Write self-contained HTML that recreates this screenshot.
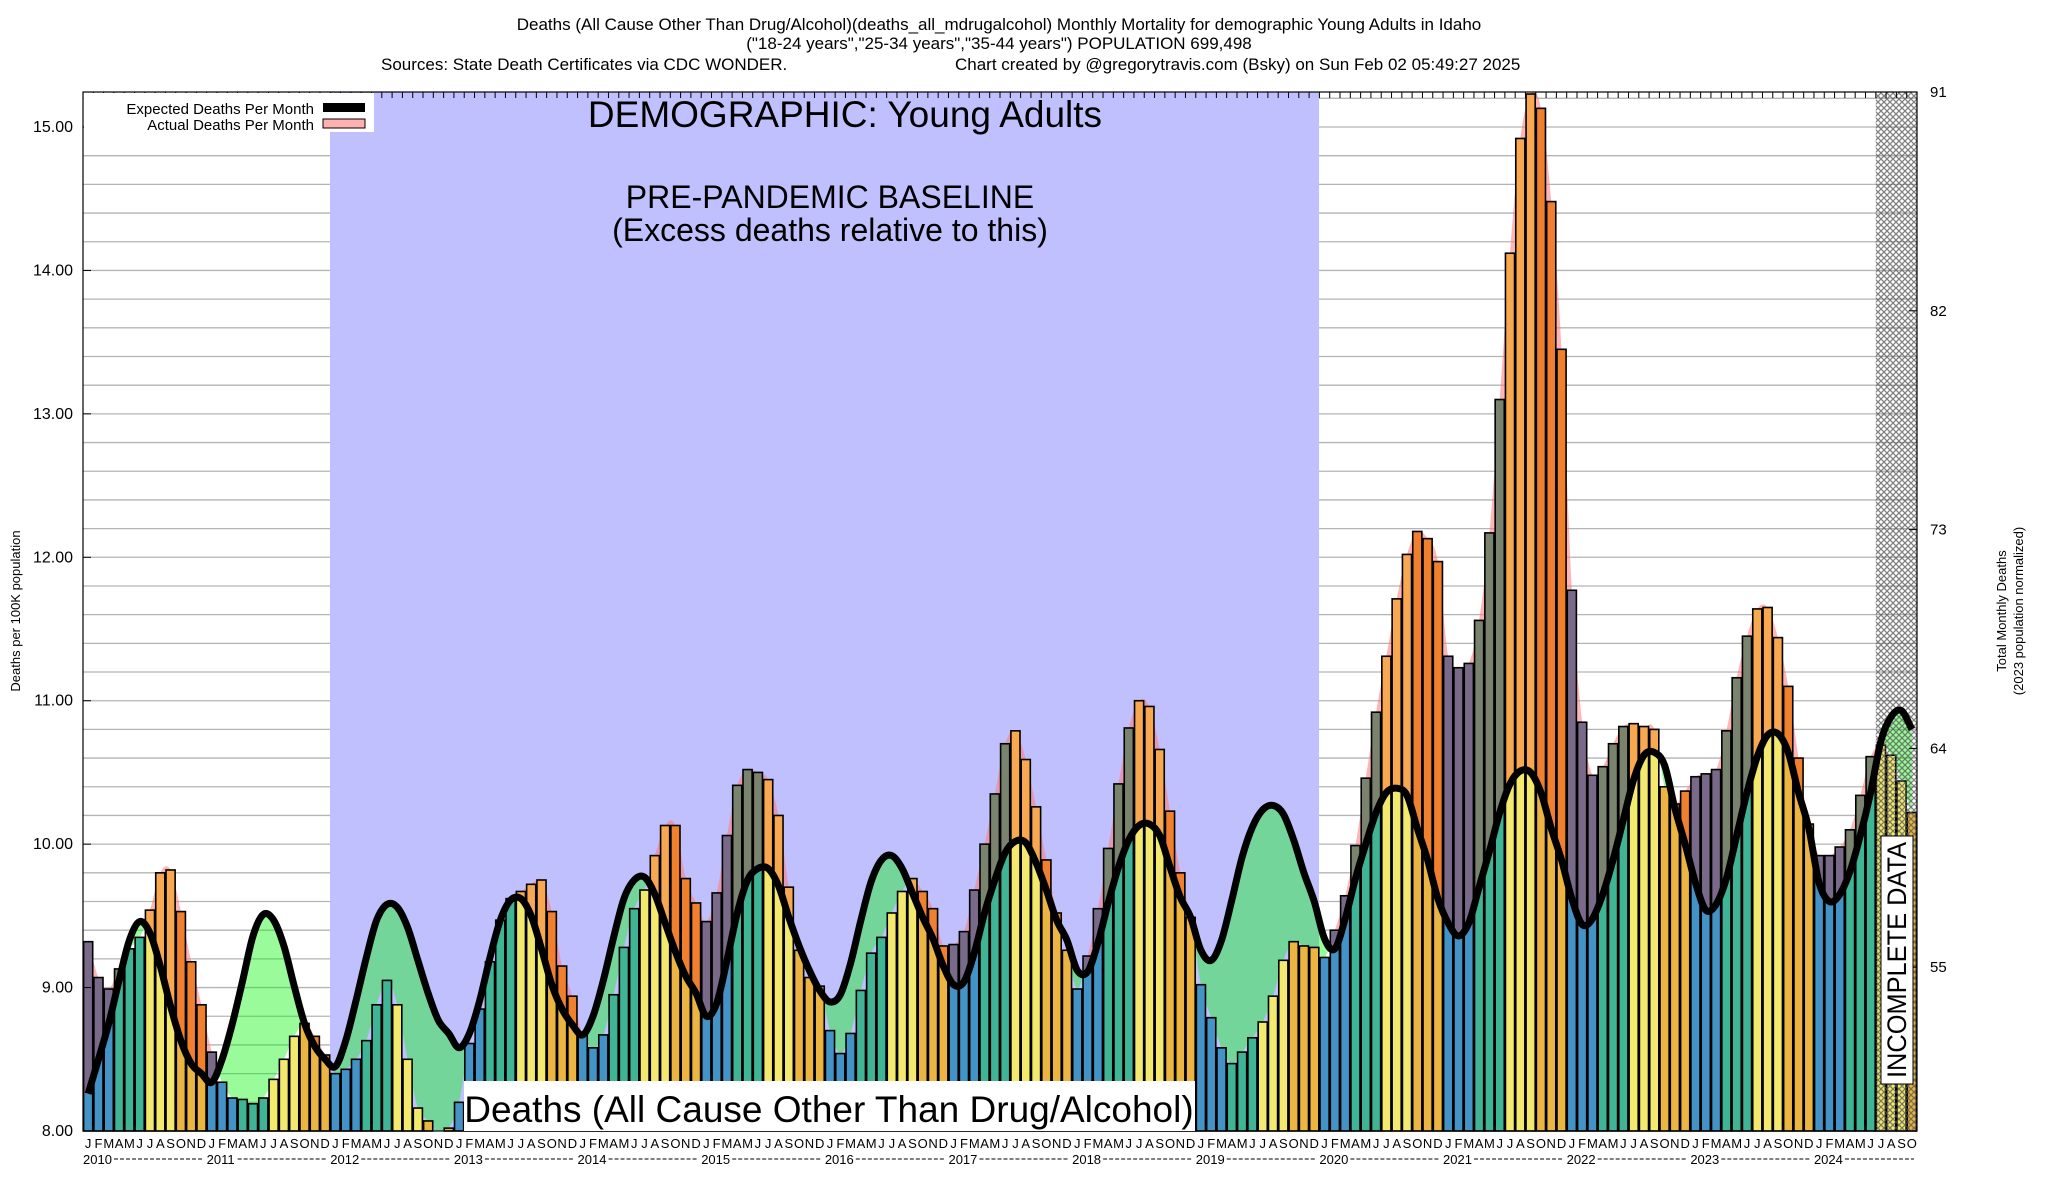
<!DOCTYPE html>
<html><head><meta charset="utf-8"><style>
html,body{margin:0;padding:0;background:#fff;}
svg{display:block;font-family:"Liberation Sans",Arial,sans-serif;}
</style></head><body>
<svg id="chart" width="2048" height="1200" viewBox="0 0 2048 1200" xmlns="http://www.w3.org/2000/svg">
<defs>
<pattern id="hatch" width="6" height="6" patternUnits="userSpaceOnUse">
<path d="M0,0L6,6M6,0L0,6" stroke="#555" stroke-width="1.3"/>
</pattern>
</defs>
<g font-size="17" text-anchor="middle">
<text x="999" y="30">Deaths (All Cause Other Than Drug/Alcohol)(deaths_all_mdrugalcohol) Monthly Mortality for demographic Young Adults in Idaho</text>
<text x="999" y="49">("18-24 years","25-34 years","35-44 years") POPULATION 699,498</text>
<text x="381" y="70" text-anchor="start">Sources: State Death Certificates via CDC WONDER.</text>
<text x="955" y="70" text-anchor="start">Chart created by @gregorytravis.com (Bsky) on Sun Feb 02 05:49:27 2025</text>
</g>
<g id="grid"></g>
<rect x="330" y="92" width="989" height="1039" fill="#c0c0ff"/>
<g id="fills"></g>
<g id="bars"></g>
<rect id="hatchRect" y="92" height="1039" fill="url(#hatch)" opacity="0.75"/>
<path id="expLine" fill="none" stroke="#000" stroke-width="7" stroke-linejoin="round"/>
<rect x="83" y="92" width="1834" height="1039" fill="none" stroke="#000" stroke-width="1.2"/>
<g id="axes"></g>
<g>
<rect x="84" y="93" width="290" height="39" fill="#fff"/>
<text x="314" y="114" font-size="15" text-anchor="end">Expected Deaths Per Month</text>
<rect x="323" y="103" width="42" height="9" fill="#000"/>
<text x="314" y="130" font-size="15" text-anchor="end">Actual Deaths Per Month</text>
<rect x="323" y="119" width="42" height="9" fill="#ffb0b0" stroke="#000" stroke-width="1"/>
</g>
<text x="845" y="127" font-size="37" text-anchor="middle">DEMOGRAPHIC: Young Adults</text>
<text x="830" y="208" font-size="32" text-anchor="middle">PRE-PANDEMIC BASELINE</text>
<text x="830" y="241" font-size="32" text-anchor="middle">(Excess deaths relative to this)</text>
<g>
<rect x="464" y="1081" width="731" height="50" fill="#fff"/>
<text x="829" y="1122" font-size="37" text-anchor="middle">Deaths (All Cause Other Than Drug/Alcohol)</text>
</g>
<g>
<rect x="1881" y="836" width="32" height="248" fill="#fff" stroke="#000" stroke-width="1"/>
<text transform="translate(1906,960) rotate(-90)" font-size="27" text-anchor="middle" textLength="236" lengthAdjust="spacingAndGlyphs">INCOMPLETE DATA</text>
</g>
<text transform="translate(20,611) rotate(-90)" font-size="13" text-anchor="middle">Deaths per 100K population</text>
<text transform="translate(2006,611) rotate(-90)" font-size="13" text-anchor="middle">Total Monthly Deaths</text>
<text transform="translate(2023,611) rotate(-90)" font-size="13" text-anchor="middle">(2023 population normalized)</text>
</svg>
<script>
const years = [2010,2011,2012,2013,2014,2015,2016,2017,2018,2019,2020,2021,2022,2023,2024];
const monthLetters = ["J","F","M","A","M","J","J","A","S","O","N","D"];
const actual = [
9.32,9.07,8.99,9.13,9.27,9.35,9.54,9.80,9.82,9.53,9.18,8.88,
8.55,8.34,8.23,8.22,8.19,8.23,8.36,8.50,8.66,8.75,8.66,8.53,
8.40,8.43,8.50,8.63,8.88,9.05,8.88,8.50,8.16,8.07,7.99,8.02,
8.20,8.61,8.85,9.18,9.47,9.62,9.67,9.72,9.75,9.53,9.15,8.94,
8.67,8.58,8.67,8.95,9.28,9.55,9.68,9.92,10.13,10.13,9.76,9.59,
9.46,9.66,10.06,10.41,10.52,10.50,10.45,10.20,9.70,9.26,9.07,9.01,
8.70,8.54,8.68,8.98,9.24,9.35,9.52,9.67,9.76,9.67,9.55,9.29,
9.30,9.39,9.68,10.00,10.35,10.70,10.79,10.59,10.26,9.89,9.52,9.26,
8.99,9.22,9.55,9.97,10.42,10.81,11.00,10.96,10.66,10.23,9.80,9.49,
9.02,8.79,8.58,8.47,8.55,8.65,8.76,8.94,9.19,9.32,9.29,9.28,
9.21,9.40,9.64,9.99,10.46,10.92,11.31,11.71,12.02,12.18,12.13,11.97,
11.31,11.23,11.26,11.56,12.17,13.10,14.12,14.92,15.23,15.13,14.48,13.45,
11.77,10.85,10.48,10.54,10.70,10.82,10.84,10.82,10.80,10.40,10.28,10.37,
10.47,10.49,10.52,10.79,11.16,11.45,11.64,11.65,11.44,11.10,10.60,10.14,
9.92,9.92,9.98,10.10,10.34,10.61,10.69,10.62,10.44,10.22];
const expected = [
8.26,8.50,8.75,9.05,9.33,9.46,9.38,9.15,8.87,8.63,8.47,8.40,
8.34,8.50,8.75,9.05,9.36,9.51,9.47,9.29,9.01,8.75,8.59,8.50,
8.45,8.63,8.91,9.21,9.47,9.58,9.56,9.42,9.19,8.96,8.77,8.68,
8.58,8.68,8.91,9.21,9.47,9.61,9.62,9.50,9.27,9.02,8.85,8.74,
8.67,8.80,9.05,9.35,9.62,9.75,9.77,9.65,9.45,9.25,9.08,8.96,
8.80,8.89,9.19,9.52,9.75,9.83,9.83,9.71,9.49,9.29,9.12,8.98,
8.90,8.95,9.17,9.47,9.74,9.89,9.92,9.83,9.66,9.49,9.34,9.15,
9.02,9.04,9.24,9.52,9.75,9.94,10.02,10.01,9.87,9.68,9.47,9.33,
9.12,9.11,9.31,9.59,9.84,10.03,10.13,10.14,10.06,9.84,9.63,9.49,
9.26,9.19,9.33,9.61,9.91,10.12,10.24,10.27,10.21,10.03,9.80,9.60,
9.34,9.27,9.48,9.76,10.00,10.22,10.36,10.39,10.34,10.11,9.89,9.62,
9.45,9.36,9.45,9.70,9.95,10.22,10.42,10.51,10.50,10.36,10.11,9.89,
9.62,9.44,9.48,9.65,9.89,10.17,10.45,10.62,10.64,10.55,10.25,10.00,
9.73,9.54,9.58,9.76,10.06,10.36,10.61,10.76,10.77,10.64,10.36,10.11,
9.73,9.60,9.65,9.81,10.06,10.36,10.72,10.89,10.93,10.80];
const yTickLabels = [8,9,10,11,12,13,14,15];
const rightTickLabels = [91,82,73,64,55];
const incompleteMonths = 4;

const NS = "http://www.w3.org/2000/svg";
const L = 83, R = 1917, T = 92, B = 1131;
const N = actual.length;
const mw = (R - L) / N;
const X = i => L + i * mw;
const XC = i => L + (i + 0.5) * mw;
const Y = v => B - (v - 8) * (B - 127) / 7;
const YR = d => T + (91 - d) * 218.8 / 9;
const baseCol = ["#4393c6","#40b595","#f3e96f","#ecb541"];
const excCol = ["#7a6a8a","#7a836d","#f8a851","#f0802e"];

function mk(tag, attrs, parent) {
  const e = document.createElementNS(NS, tag);
  for (const k in attrs) e.setAttribute(k, attrs[k]);
  parent.appendChild(e);
  return e;
}
function smooth(pts) {
  let d = "M" + pts[0][0].toFixed(2) + "," + pts[0][1].toFixed(2);
  for (let i = 0; i < pts.length - 1; i++) {
    const p0 = pts[Math.max(0, i - 1)], p1 = pts[i], p2 = pts[i + 1], p3 = pts[Math.min(pts.length - 1, i + 2)];
    const c1x = p1[0] + (p2[0] - p0[0]) / 6, c1y = p1[1] + (p2[1] - p0[1]) / 6;
    const c2x = p2[0] - (p3[0] - p1[0]) / 6, c2y = p2[1] - (p3[1] - p1[1]) / 6;
    d += "C" + c1x.toFixed(2) + "," + c1y.toFixed(2) + " " + c2x.toFixed(2) + "," + c2y.toFixed(2) + " " + p2[0].toFixed(2) + "," + p2[1].toFixed(2);
  }
  return d;
}
function smoothRev(pts) { return smooth(pts.slice().reverse()).replace(/^M/, "L"); }

const svg = document.getElementById("chart");
const grid = document.getElementById("grid");
for (let k = 1; k <= 36; k++) {
  const v = 8 + k * 0.2;
  if (v > 15.25) break;
  const gl = mk("line", {x1: L, x2: R, y1: Y(v), y2: Y(v), stroke: "#b4b4b4", "stroke-width": 1.3}, grid);
  
  
}

const expPts = expected.map((v, i) => [XC(i), Y(v)]);
const actPts = actual.map((v, i) => [XC(i), Y(v)]);
const defs = svg.querySelector("defs");
const expD = smooth(expPts);
const cpA = mk("clipPath", {id: "aboveExp"}, defs);
mk("path", {d: "M" + L + "," + T + "L" + L + "," + expPts[0][1] + "L" + expD.slice(1) + "L" + R + "," + expPts[N-1][1] + "L" + R + "," + T + "Z"}, cpA);
const cpB = mk("clipPath", {id: "belowExp"}, defs);
mk("path", {d: "M" + L + "," + B + "L" + L + "," + expPts[0][1] + "L" + expD.slice(1) + "L" + R + "," + expPts[N-1][1] + "L" + R + "," + B + "Z"}, cpB);
const areaD = smooth(actPts) + smoothRev(expPts) + "Z";
const fills = document.getElementById("fills");
const pink = mk("path", {d: areaD, fill: "rgba(255,120,120,0.55)", "clip-path": "url(#aboveExp)"}, fills);


const green = mk("path", {d: areaD, fill: "rgba(0,245,0,0.4)", "clip-path": "url(#belowExp)"}, fills);



const bars = document.getElementById("bars");
for (let i = 0; i < N; i++) {
  const q = Math.floor((i % 12) / 3);
  const a = actual[i], e = expected[i];
  const x = X(i) + 0.6, w = mw - 1.2;
  const g = mk("g", {}, bars);
  
  
  const lo = Math.min(a, e);
  mk("rect", {x: x, y: Y(lo), width: w, height: B - Y(lo), fill: baseCol[q]}, g);
  if (a > e) mk("rect", {x: x, y: Y(a), width: w, height: Y(e) - Y(a), fill: excCol[q]}, g);
  mk("rect", {x: x, y: Y(a), width: w, height: B - Y(a), fill: "none", stroke: "#000", "stroke-width": 1.6}, g);
}
const hr = document.getElementById("hatchRect");
hr.setAttribute("x", X(N - incompleteMonths));
hr.setAttribute("width", R - X(N - incompleteMonths));
document.getElementById("expLine").setAttribute("d", expD);

const axes = document.getElementById("axes");
yTickLabels.forEach(v => {
  const t = mk("text", {x: 73, y: Y(v) + 5, "font-size": 16, "text-anchor": "end"}, axes);
  t.textContent = v.toFixed(2);
  
  
  mk("line", {x1: L, x2: L + 8, y1: Y(v), y2: Y(v), stroke: "#000", "stroke-width": 1}, axes);
});
rightTickLabels.forEach(d => {
  const t = mk("text", {x: 1930, y: YR(d) + 5, "font-size": 15}, axes);
  t.textContent = d;
  
  
  mk("line", {x1: R - 8, x2: R, y1: YR(d), y2: YR(d), stroke: "#000", "stroke-width": 1}, axes);
});
for (let i = 0; i <= N; i++) {
  mk("line", {x1: X(i), x2: X(i), y1: T, y2: T + 6, stroke: "#000", "stroke-width": 1}, axes);
}
for (let i = 0; i < N; i++) {
  const t = mk("text", {x: XC(i), y: 1148, "font-size": 13, "text-anchor": "middle"}, axes);
  t.textContent = monthLetters[i % 12];
  
  
}
years.forEach((yr, k) => {
  const x0 = X(k * 12);
  const t = mk("text", {x: x0, y: 1164, "font-size": 13}, axes);
  t.textContent = yr;
  
  
  const x1 = Math.min(X((k + 1) * 12), R) - 3;
  mk("line", {x1: x0 + 31, x2: x1, y1: 1159, y2: 1159, stroke: "#000", "stroke-width": 1, "stroke-dasharray": "4,2"}, axes);
});
</script>
</body></html>
